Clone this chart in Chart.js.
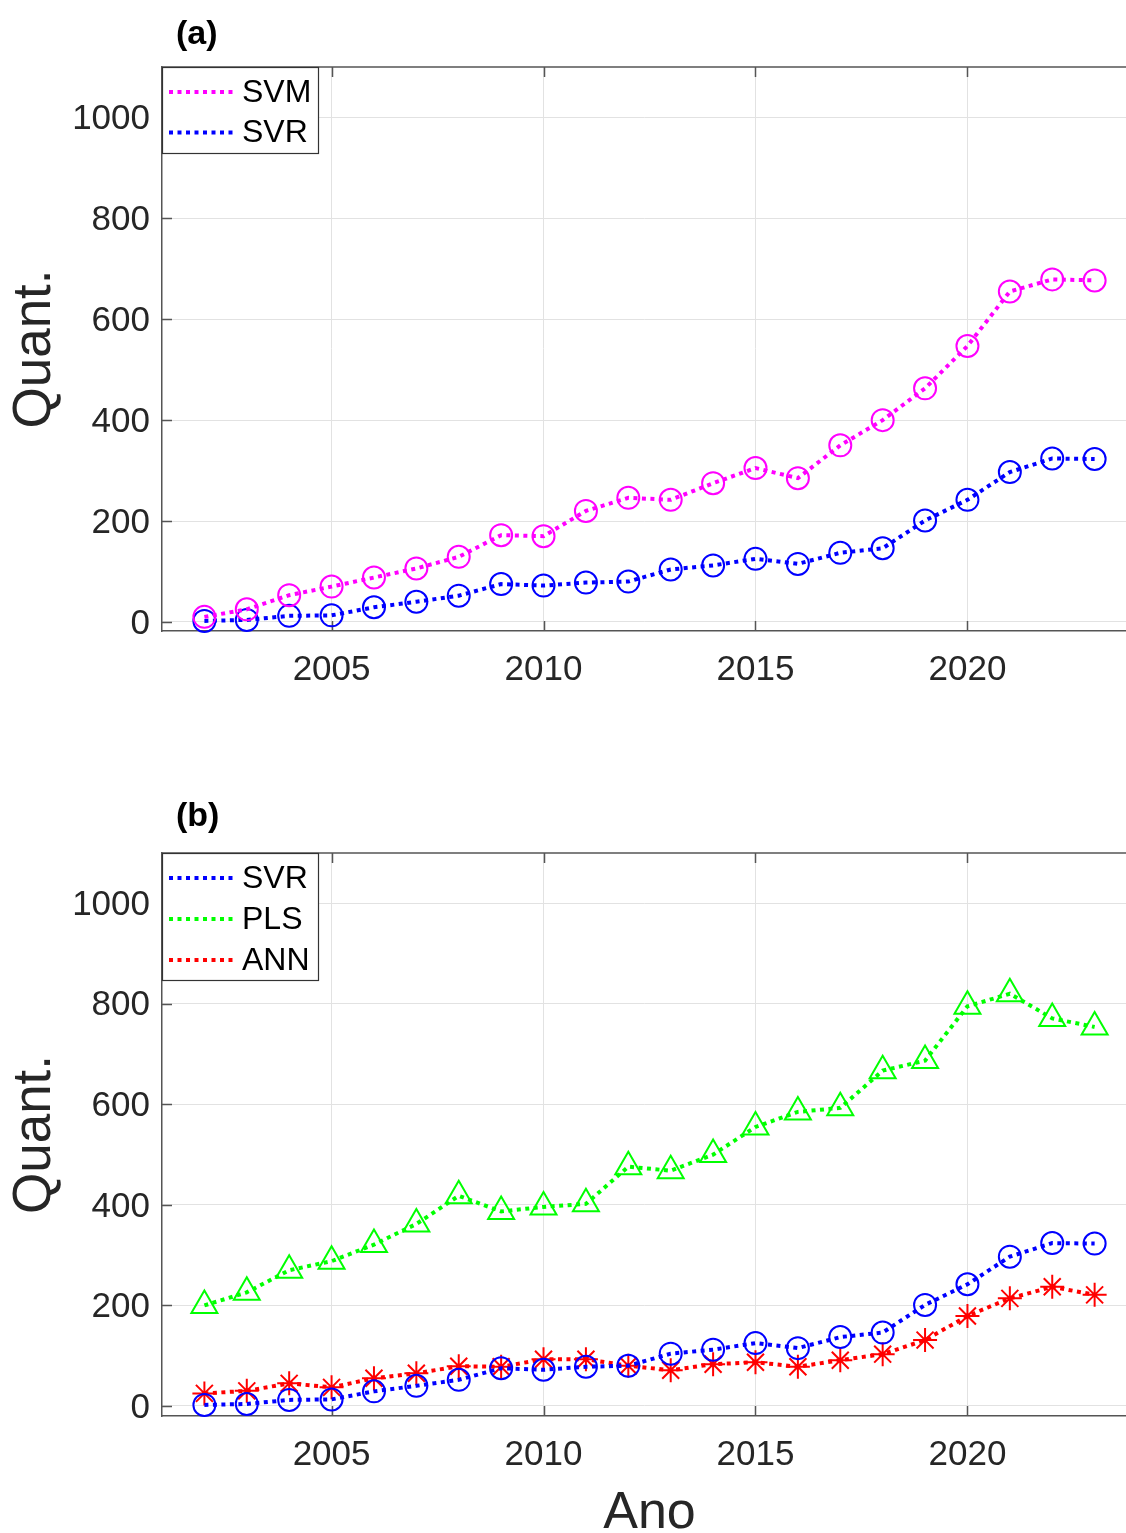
<!DOCTYPE html>
<html><head><meta charset="utf-8">
<script src="https://cdn.jsdelivr.net/npm/chart.js@4.4.1/dist/chart.umd.min.js"></script>
<style>
html,body{margin:0;padding:0;background:#fff;overflow:hidden;width:1126px;height:1533px;position:relative;}
.wrap{position:absolute;left:0;width:1126px;}
#wa{top:0;height:700px;}
#wb{top:785px;height:748px;}
.lab{position:absolute;font-family:"Liberation Sans",Arial,sans-serif;font-weight:bold;font-size:34px;line-height:34px;color:#000;}
</style></head><body>
<div class="wrap" id="wa"><canvas id="ca" width="1126" height="700"></canvas></div>
<div class="wrap" id="wb"><canvas id="cb" width="1126" height="748"></canvas></div>
<div class="lab" style="left:176px;top:15px">(a)</div>
<div class="lab" style="left:176px;top:797px">(b)</div>
<script>
const years = [2002,2003,2004,2005,2006,2007,2008,2009,2010,2011,2012,2013,2014,2015,2016,2017,2018,2019,2020,2021,2022,2023];
const xTickValues = [2005,2010,2015,2020];
const yTickValues = [0,200,400,600,800,1000];
const svm = [10,25,53,70,88,106,129,172,170,220,246,242,275,305,285,350,400,463,547,655,679,677];
const svr = [2,4,12,13,29,40,52,75,72,78,80,104,112,125,115,137,146,201,242,297,324,323];
const pls = [200,226,270,288,321,362,418,387,396,402,476,468,500,555,585,593,667,687,795,820,771,754];
const ann = [25,30,45,37,55,65,79,78,93,93,80,71,83,87,78,91,103,131,179,214,237,221];
const labelsA = ['SVM','SVR'];
const labelsB = ['SVR','PLS','ANN'];
const yTitle = 'Quant.';
const xTitle = 'Ano';

const FONT = '"Liberation Sans", Arial, sans-serif';
const AXC = '#555';
const GRID = '#e2e2e2';
const TXT = '#262626';

const toXY = arr => arr.map((v,i)=>({x:years[i], y:v}));

function ds(label, values, color, style, radius){
  return {label, data: toXY(values), borderColor: color, backgroundColor:'rgba(0,0,0,0)',
    borderWidth:4, borderDash:[4,4.5], borderCapStyle:'butt', pointStyle: style, pointRadius: radius,
    pointHoverRadius: radius, pointBorderWidth:2, pointBorderColor: color,
    pointBackgroundColor:'rgba(0,0,0,0)', tension:0, fill:false, clip:false};
}

const framePlugin = {
  id:'frame',
  beforeDatasetsDraw(chart){
    const {ctx, chartArea:a, scales:{x,y}} = chart;
    ctx.save(); ctx.strokeStyle=AXC; ctx.lineWidth=1.5; ctx.setLineDash([]);
    ctx.beginPath(); ctx.moveTo(a.left, a.top); ctx.lineTo(a.right, a.top); ctx.stroke();
    const L = 10;
    ctx.beginPath();
    x.ticks.forEach(t=>{const px=Math.round(x.getPixelForValue(t.value))+0.5;
      ctx.moveTo(px,a.bottom); ctx.lineTo(px,a.bottom-L); ctx.moveTo(px,a.top); ctx.lineTo(px,a.top+L);});
    y.ticks.forEach(t=>{const py=Math.round(y.getPixelForValue(t.value))+0.5;
      ctx.moveTo(a.left,py); ctx.lineTo(a.left+L,py);});
    ctx.stroke();
    const opts = chart.options.plugins.frame || {};
    if (opts.xTitle){
      // axis title centred on the full 2001–2024 span of the original (cropped) axis
      const cx = (x.getPixelForValue(2001) + x.getPixelForValue(2024)) / 2;
      ctx.fillStyle = TXT; ctx.font = '52px ' + FONT; ctx.textAlign='center'; ctx.textBaseline='middle';
      ctx.fillText(opts.xTitle, cx, chart.height - 19);
    }
    ctx.restore();
  }
};

const legendPlugin = {
  id:'mlegend',
  afterDraw(chart, args, opts){
    const {ctx, chartArea:a} = chart;
    const x0 = a.left, y0 = a.top, w = 156, h = opts.h;
    ctx.save();
    ctx.fillStyle='#fff'; ctx.fillRect(x0,y0,w,h);
    ctx.strokeStyle='#333'; ctx.lineWidth=1.2; ctx.setLineDash([]);
    ctx.strokeRect(x0+0.5,y0+0.5,w,h);
    chart.data.datasets.forEach((d,i)=>{
      const yy = y0 + opts.first + i*opts.step;
      ctx.setLineDash([4,4.5]); ctx.lineWidth=4; ctx.strokeStyle=d.borderColor;
      ctx.beginPath(); ctx.moveTo(x0+7,yy); ctx.lineTo(x0+75,yy); ctx.stroke();
      ctx.setLineDash([]);
      ctx.fillStyle='#000'; ctx.font='32px '+FONT; ctx.textBaseline='middle'; ctx.textAlign='left';
      ctx.fillText(d.label, x0+80, yy+1);
    });
    ctx.restore();
  }
};

function makeOptions(yMin, xH, padTop, xt, leg){
  return {
    responsive:false, animation:false, devicePixelRatio:1,
    layout:{autoPadding:false, padding:{top:padTop, right:0, left:0, bottom:0}},
    plugins:{legend:{display:false}, tooltip:{enabled:false}, mlegend:leg, frame:{xTitle:xt}},
    scales:{
      x:{type:'linear', min:2001, max:2023.74,
        afterBuildTicks: s=>{ s.ticks = xTickValues.map(v=>({value:v})); },
        afterFit: s=>{ s.height = xH; },
        grid:{color:GRID, lineWidth:1, drawTicks:false},
        border:{display:true, color:AXC, width:1.5},
        ticks:{font:{family:FONT, size:35}, color:TXT, padding:18, maxRotation:0, autoSkip:false, callback:v=>String(v)},
        title:{display:false}
      },
      y:{type:'linear', min:yMin, max:1100,
        afterBuildTicks: s=>{ s.ticks = yTickValues.map(v=>({value:v})); },
        afterFit: s=>{ s.width = 162; },
        grid:{color:GRID, lineWidth:1, drawTicks:false},
        border:{display:true, color:AXC, width:1.5},
        ticks:{font:{family:FONT, size:35}, color:TXT, padding:12, labelOffset:2, callback:v=>String(v)},
        title:{display:true, text:yTitle, color:TXT, font:{family:FONT, size:53, lineHeight:1}, padding:{top:9,bottom:0}}
      }
    }
  };
}

new Chart(document.getElementById('ca'), {
  type:'line',
  data:{datasets:[
    ds(labelsA[0], svm, '#ff00ff', 'circle', 11),
    ds(labelsA[1], svr, '#0000ff', 'circle', 11)
  ]},
  options: makeOptions(-18, 69, 67, null, {h:86, first:25, step:40.5}),
  plugins:[framePlugin, legendPlugin]
});

new Chart(document.getElementById('cb'), {
  type:'line',
  data:{datasets:[
    ds(labelsB[0], svr, '#0000ff', 'circle', 11),
    ds(labelsB[1], pls, '#00ff00', 'triangle', 15),
    ds(labelsB[2], ann, '#ff0000', 'star', 12)
  ]},
  options: makeOptions(-20, 117, 68, xTitle, {h:127, first:25, step:41}),
  plugins:[framePlugin, legendPlugin]
});
</script>
</body></html>
